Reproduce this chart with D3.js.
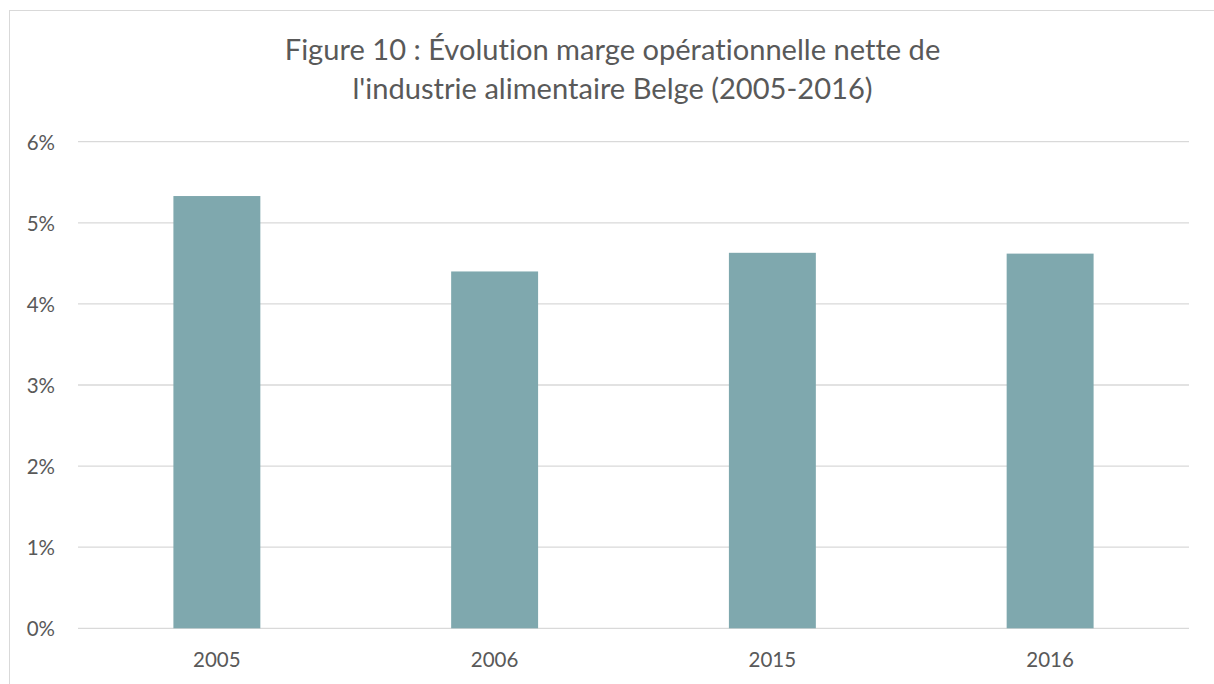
<!DOCTYPE html>
<html>
<head>
<meta charset="utf-8">
<script src="https://cdn.jsdelivr.net/npm/d3@7"></script>
<style>
  html, body { margin: 0; padding: 0; background: #fff; }
  svg { display: block; }
  text { font-family: Lato, "Open Sans", sans-serif; fill: #595959; font-variant-ligatures: none; font-feature-settings: "liga" 0, "clig" 0; }
</style>
</head>
<body>
<svg id="chart" width="1214" height="684"></svg>
<script>
const categories = ["2005", "2006", "2015", "2016"];
const values = [0.0533, 0.0440, 0.0463, 0.0462];
const yTicks = [0, 0.01, 0.02, 0.03, 0.04, 0.05, 0.06];
const titleLines = ["Figure 10 : Évolution marge opérationnelle nette de",
                    "l'industrie alimentaire Belge (2005-2016)"];

const svg = d3.select("#chart");
const plot = { left: 78, right: 1189, top: 141.7, bottom: 628.3 };

// outer chart border (extends past the viewport on right and bottom)
svg.append("rect")
  .attr("x", 9.5).attr("y", 10.5)
  .attr("width", 1400).attr("height", 900)
  .attr("fill", "none").attr("stroke", "#D9D9D9").attr("stroke-width", 1);

const x = d3.scaleBand()
  .domain(categories)
  .range([plot.left, plot.right])
  .paddingInner(0.687)
  .paddingOuter(0.687 / 2);

const y = d3.scaleLinear()
  .domain([0, 0.06])
  .range([plot.bottom, plot.top]);

// gridlines
svg.append("g")
  .selectAll("line")
  .data(yTicks)
  .join("line")
  .attr("x1", plot.left).attr("x2", plot.right)
  .attr("y1", d => y(d)).attr("y2", d => y(d))
  .attr("stroke", "#D9D9D9").attr("stroke-width", 1.3);

// bars
svg.append("g")
  .selectAll("rect")
  .data(values)
  .join("rect")
  .attr("x", (d, i) => x(categories[i]))
  .attr("width", x.bandwidth())
  .attr("y", d => y(d))
  .attr("height", d => y(0) - y(d))
  .attr("fill", "#7FA8AE");

// y axis labels
const fmt = d3.format(".0%");
const yAxis = d3.axisLeft(y).tickValues(yTicks).tickFormat(fmt).tickSize(0).tickPadding(0);
const gy = svg.append("g").attr("transform", `translate(55,0)`).call(yAxis);
gy.select(".domain").remove();
gy.selectAll("text")
  .attr("font-size", 20.5)
  .attr("font-family", "Lato, 'Open Sans', sans-serif")
  .attr("fill", "#595959")
  .attr("dy", "0.36em");

// x axis labels
const xAxis = d3.axisBottom(x).tickSize(0).tickPadding(0);
const gx = svg.append("g").attr("transform", `translate(0,${plot.bottom})`).call(xAxis);
gx.select(".domain").remove();
gx.selectAll("text")
  .attr("font-size", 20.5)
  .attr("font-family", "Lato, 'Open Sans', sans-serif")
  .attr("fill", "#595959")
  .attr("dy", null)
  .attr("y", 38.5);

// title
const titleTargets = [665, 511];
const baselines = [60, 99];
const cx = 612.5;
const t = svg.append("g");
const tl = titleLines.map((s, i) => t.append("text")
  .attr("x", cx).attr("y", baselines[i])
  .attr("text-anchor", "middle")
  .attr("font-size", 24)
  .text(s));
// fit font size to the reference line widths
const fs = 24 * (titleTargets[0] + titleTargets[1]) /
  (tl[0].node().getComputedTextLength() + tl[1].node().getComputedTextLength());
tl.forEach(n => n.attr("font-size", fs.toFixed(2)));
</script>
</body>
</html>
